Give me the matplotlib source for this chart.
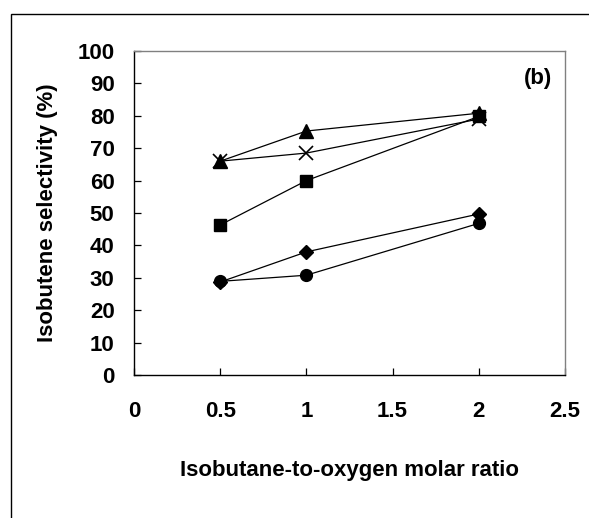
import numpy as np
import matplotlib
matplotlib.use("Agg")
import matplotlib.pyplot as plt
from matplotlib.patches import Rectangle

plt.rcParams['font.family'] = ['Liberation Sans', 'DejaVu Sans']
plt.rcParams['font.weight'] = 'bold'

# molar ratio
ratio = [0.5, 1, 2]

# selectivity series (%)
sel_triangle = [66.0, 75.3, 80.8]
sel_cross = [66.0, 68.5, 79.0]
sel_square = [46.3, 60.0, 79.8]
sel_diamond = [28.7, 38.0, 49.7]
sel_circle = [28.9, 30.8, 46.8]

fig = plt.figure(figsize=(5.89, 5.18), dpi=100)
ax = fig.add_axes([134/589, 1-375/518, (565-134)/589, (375-51)/518])

# outer chart border (Excel style), runs off the right and bottom edges
fig.patches.append(Rectangle((11/589, -0.1), 1.0, 1.1-14/518, transform=fig.transFigure,
                             fill=False, edgecolor='black', linewidth=1.0, clip_on=False))

kw = dict(color='black', linewidth=0.9)
ax.plot(ratio, sel_triangle, marker='^', markersize=9.5, **kw)
ax.plot(ratio, sel_cross, marker='x', markersize=9.5, markeredgewidth=1.2, **kw)
ax.plot(ratio, sel_square, marker='s', markersize=8, **kw)
ax.plot(ratio, sel_diamond, marker='D', markersize=7, **kw)
ax.plot(ratio, sel_circle, marker='o', markersize=8.5, **kw)

ax.set_xlim(0, 2.5)
ax.set_ylim(0, 100)
ax.set_xticks(np.arange(0, 2.51, 0.5))
ax.set_xticklabels(['0', '0.5', '1', '1.5', '2', '2.5'])
ax.set_yticks(np.arange(0, 101, 10))

ax.tick_params(axis='both', direction='in', labelsize=16, length=5, width=0.9)
ax.tick_params(axis='x', pad=19)
ax.tick_params(axis='y', pad=14)
for lbl in ax.get_xticklabels() + ax.get_yticklabels():
    lbl.set_fontweight('bold')

for s in ['left', 'bottom']:
    ax.spines[s].set_color('black')
    ax.spines[s].set_linewidth(1.0)
for s in ['top', 'right']:
    ax.spines[s].set_color('#808080')
    ax.spines[s].set_linewidth(1.0)

ax.set_xlabel('Isobutane-to-oxygen molar ratio', fontsize=16, fontweight='bold', labelpad=27)
ax.set_ylabel('Isobutene selectivity (%)', fontsize=16, fontweight='bold', labelpad=14)

ax.text(0.97, 0.915, '(b)', transform=ax.transAxes, ha='right', va='center',
        fontsize=16, fontweight='bold')

fig.savefig('out.png', dpi=100)
